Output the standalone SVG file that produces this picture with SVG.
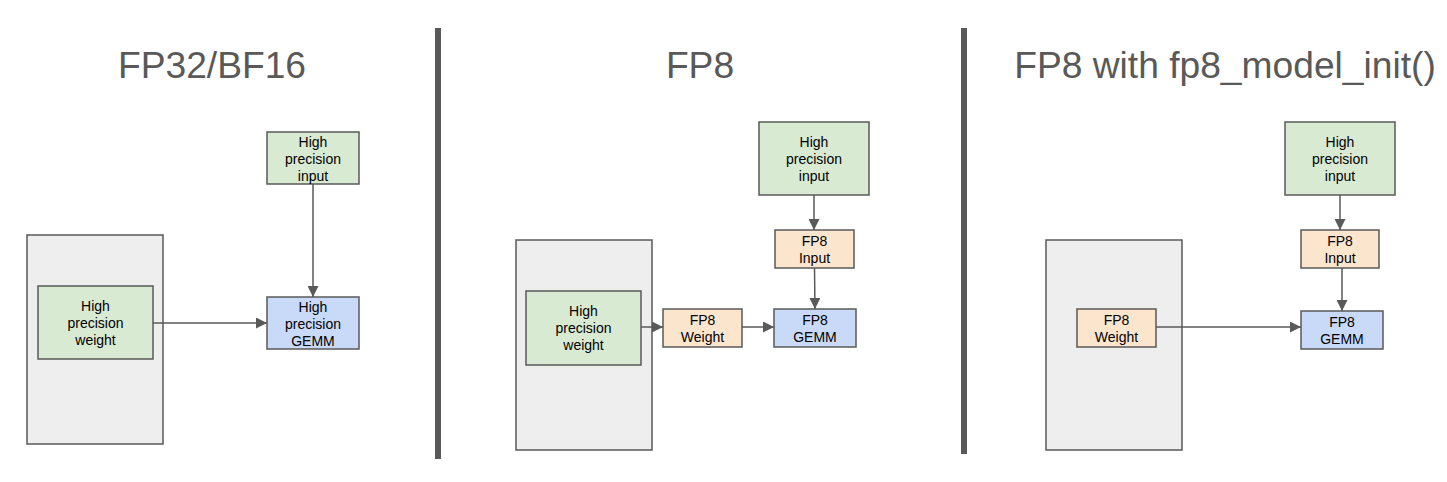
<svg xmlns="http://www.w3.org/2000/svg" width="1447" height="482" viewBox="0 0 1447 482">
<defs>
<marker id="ah" viewBox="0 0 10 10" refX="10" refY="5" markerWidth="11" markerHeight="11" markerUnits="userSpaceOnUse" orient="auto">
<path d="M0,0 L10,5 L0,10 z" fill="#595959"/>
</marker>
<style>
.t{font-family:"Liberation Sans",Arial,sans-serif;font-size:37.2px;fill:#595959;text-anchor:middle}
.l{font-family:"Liberation Sans",Arial,sans-serif;font-size:14px;fill:#000;text-anchor:middle}
.g{fill:#d9ead3;stroke:#595959;stroke-width:1.5}
.o{fill:#fce5cd;stroke:#595959;stroke-width:1.5}
.b{fill:#c9daf8;stroke:#595959;stroke-width:1.5}
.c{fill:#eeeeee;stroke:#595959;stroke-width:1.5}
.e{fill:none;stroke:#595959;stroke-width:1.5;marker-end:url(#ah)}
</style>
</defs>
<rect width="1447" height="482" fill="#fff"/>
<text class="t" x="212" y="78">FP32/BF16</text>
<text class="t" x="700" y="78">FP8</text>
<text class="t" x="1225" y="78">FP8 with fp8_model_init()</text>
<rect x="435" y="28" width="6" height="431" fill="#595959"/>
<rect x="961" y="28" width="6" height="426" fill="#595959"/>

<g id="p1-container"><rect class="c" x="27" y="235" width="136" height="209"/></g>
<g id="p1-weight"><rect class="g" x="38" y="286" width="115" height="73"/><text class="l" x="95.5" y="311">High</text><text class="l" x="95.5" y="328">precision</text><text class="l" x="95.5" y="345">weight</text></g>
<g id="p1-input"><rect class="g" x="267" y="132" width="92" height="52"/><text class="l" x="313" y="147">High</text><text class="l" x="313" y="164">precision</text><text class="l" x="313" y="181">input</text></g>
<g id="p1-gemm"><rect class="b" x="267" y="297" width="92" height="52"/><text class="l" x="313" y="312">High</text><text class="l" x="313" y="329">precision</text><text class="l" x="313" y="346">GEMM</text></g>

<g id="p2-container"><rect class="c" x="516" y="240" width="136" height="210"/></g>
<g id="p2-weight"><rect class="g" x="526" y="291" width="115" height="74"/><text class="l" x="583.5" y="316">High</text><text class="l" x="583.5" y="333">precision</text><text class="l" x="583.5" y="350">weight</text></g>
<g id="p2-fp8weight"><rect class="o" x="663" y="309" width="79" height="38"/><text class="l" x="702.5" y="325">FP8</text><text class="l" x="702.5" y="342">Weight</text></g>
<g id="p2-gemm"><rect class="b" x="774" y="309" width="82" height="38"/><text class="l" x="815" y="325">FP8</text><text class="l" x="815" y="342">GEMM</text></g>
<g id="p2-input"><rect class="g" x="759" y="122" width="110" height="73"/><text class="l" x="814" y="147">High</text><text class="l" x="814" y="164">precision</text><text class="l" x="814" y="181">input</text></g>
<g id="p2-fp8input"><rect class="o" x="775" y="230" width="79" height="38"/><text class="l" x="814.5" y="246">FP8</text><text class="l" x="814.5" y="263">Input</text></g>

<g id="p3-container"><rect class="c" x="1046" y="240" width="136" height="210"/></g>
<g id="p3-fp8weight"><rect class="o" x="1077" y="309" width="79" height="38"/><text class="l" x="1116.5" y="325">FP8</text><text class="l" x="1116.5" y="342">Weight</text></g>
<g id="p3-gemm"><rect class="b" x="1301" y="311" width="82" height="38"/><text class="l" x="1342" y="327">FP8</text><text class="l" x="1342" y="344">GEMM</text></g>
<g id="p3-input"><rect class="g" x="1285" y="122" width="110" height="73"/><text class="l" x="1340" y="147">High</text><text class="l" x="1340" y="164">precision</text><text class="l" x="1340" y="181">input</text></g>
<g id="p3-fp8input"><rect class="o" x="1301" y="230" width="78" height="38"/><text class="l" x="1340" y="246">FP8</text><text class="l" x="1340" y="263">Input</text></g>

<g id="connectors">
<path class="e" d="M153,323 H267"/>
<path class="e" d="M313,184 V297"/>
<path class="e" d="M641,327 H663"/>
<path class="e" d="M742,327 H774"/>
<path class="e" d="M814,195 V230"/>
<path class="e" d="M814.5,268 L815,309"/>
<path class="e" d="M1156,327 H1301"/>
<path class="e" d="M1340,195 V230"/>
<path class="e" d="M1342,268 V311"/>
</g>
</svg>
